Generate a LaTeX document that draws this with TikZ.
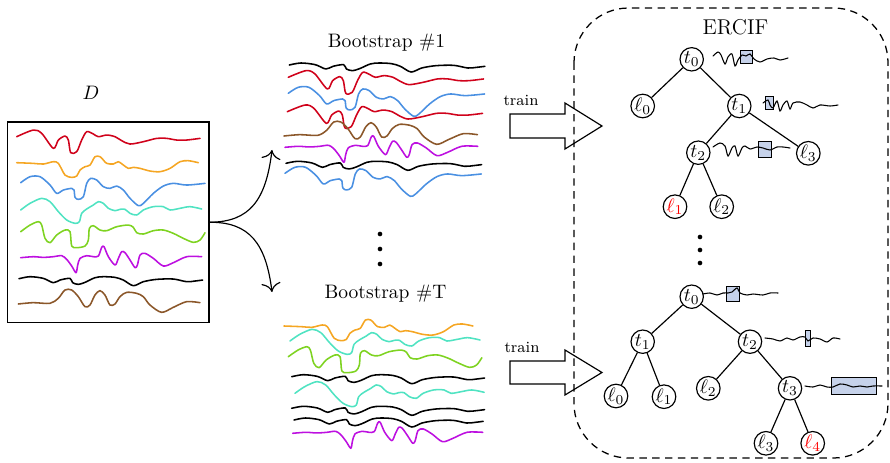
\documentclass[tikz,border=0pt]{standalone}
\usetikzlibrary{arrows.meta}
\definecolor{cRed}{HTML}{D0021B}
\definecolor{cOrange}{HTML}{F5A623}
\definecolor{cBlue}{HTML}{4A90E2}
\definecolor{cTurq}{HTML}{50E3C2}
\definecolor{cGreen}{HTML}{7ED321}
\definecolor{cMag}{HTML}{BD10E0}
\definecolor{cBrown}{HTML}{8B572A}
\definecolor{boxblue}{RGB}{198,210,234}
\tikzset{
  wv/.style={line width=0.8pt, line cap=round, line join=round},
  tnode/.style={circle, draw, line width=0.6pt, minimum size=12pt, inner sep=0pt},
  edge/.style={line width=0.6pt},
  sig/.style={line width=0.55pt, line cap=round},
  sbox/.style={draw, line width=0.5pt, fill=boxblue},
  tarrow/.style={line width=0.6pt, line join=miter},
}
\newcommand\wvRed{\draw[wv,cRed] plot[smooth] coordinates {(0,0) (50,-20) (75,-10) (110,35) (125,10) (145,-2) (155,10) (162,48) (180,45) (195,10) (210,-15) (230,-8) (245,0) (270,-5) (295,0) (315,12) (340,22) (380,15) (420,5) (450,5) (480,10) (510,10) (550,5)};}
\newcommand\wvOrange{\draw[wv,cOrange] plot[smooth] coordinates {(0,0) (50,2) (80,4) (110,-3) (125,2) (145,37) (165,44) (180,40) (190,22) (205,12) (220,7) (235,-18) (250,-18) (260,-8) (270,2) (290,4) (305,-3) (320,7) (335,17) (350,14) (370,17) (400,25) (430,27) (460,17) (490,-3) (515,-6) (545,0)};}
\newcommand\wvBlue{\draw[wv,cBlue] plot[smooth] coordinates {(0,0) (28,-18) (58,-18) (88,7) (108,32) (128,22) (153,17) (160,22) (163,44) (173,50) (188,42) (198,2) (210,-13) (228,-8) (248,12) (268,17) (288,10) (308,22) (328,47) (353,69) (368,62) (398,32) (428,10) (458,2) (498,7) (553,2)};}
\newcommand\wvTurq{\draw[wv,cTurq] plot[smooth] coordinates {(0,0) (28,-20) (63,-35) (88,-25) (113,5) (138,30) (163,40) (176,35) (183,10) (198,-3) (218,-15) (233,-25) (248,-20) (263,-5) (283,2) (298,-2) (313,-2) (328,10) (348,15) (368,0) (398,-10) (428,-10) (448,0) (478,-5) (508,-10) (543,-3)};}
\newcommand\wvGreen{\draw[wv,cGreen] plot[smooth] coordinates {(0,0) (28,-20) (53,-30) (63,-20) (73,20) (88,33) (108,10) (133,-5) (148,0) (153,43) (168,48) (193,43) (203,25) (206,-10) (218,-18) (238,-5) (258,-3) (288,-15) (323,-20) (338,-13) (348,3) (368,7) (398,-3) (428,-5) (458,5) (488,20) (518,32) (538,25) (553,3)};}
\newcommand\wvMag{\draw[wv,cMag] plot[smooth] coordinates {(0,0) (38,-3) (68,-1) (98,-3) (123,-6) (138,5) (153,25) (166,45) (171,22) (178,2) (198,-6) (218,-3) (233,-5) (243,-31) (250,-33) (263,-3) (283,22) (293,2) (303,-18) (313,-15) (328,7) (343,30) (350,22) (358,-8) (373,-13) (398,2) (428,25) (458,15) (498,-3) (543,-3)};}
\newcommand\wvBlack{\draw[wv,black] plot[smooth] coordinates {(0,0) (33,-6) (73,-1) (103,12) (123,4) (153,-1) (161,12) (178,17) (198,11) (228,-3) (253,-6) (288,-4) (313,4) (343,21) (373,9) (413,2) (463,1) (503,9) (528,7) (551,4)};}
\newcommand\wvBrown{\draw[wv,cBrown] plot[smooth] coordinates {(0,0) (45,-4) (95,-2) (120,-17) (140,-42) (160,-42) (180,-22) (200,8) (215,3) (230,-27) (245,-40) (260,-27) (275,3) (290,0) (305,-22) (325,-35) (355,-32) (375,-22) (395,3) (430,25) (465,10) (505,-7) (545,-4)};}
\newcommand\putwv[4]{\begin{scope}[shift={(#1,#2)},xscale=#3*0.33333,yscale=0.33333]#4\end{scope}}
\begin{document}
\begin{tikzpicture}[x=0.5131pt,y=-0.5131pt]
\useasboundingbox (0,0) rectangle (890,463);

% dataset box
\node[draw, line width=0.75pt, minimum width=103.39pt, minimum height=102.88pt, inner sep=0pt] (boxD) at (108.25,222.25) {};
\node (labD) at (91,93) {$D$};
\putwv{16.7}{136.7}{1}{\wvRed}
\putwv{16.7}{162.7}{1}{\wvOrange}
\putwv{20.7}{182.7}{1}{\wvBlue}
\putwv{20.7}{210}{1}{\wvTurq}
\putwv{20.7}{231.7}{1}{\wvGreen}
\putwv{20.7}{257.7}{1}{\wvMag}
\putwv{19}{278.7}{1}{\wvBlack}
\putwv{18.3}{304}{1}{\wvBrown}

% split arrows
\coordinate (up) at (272,150);
\coordinate (dn) at (272,292);
\draw[line width=0.6pt, -{To[scale=1.6]}] (boxD.east) .. controls (250,222) and (266,200) .. (up);
\draw[line width=0.6pt, -{To[scale=1.6]}] (boxD.east) .. controls (250,222) and (266,244) .. (dn);

% bootstrap 1
\node (bs1) at (386.5,43) {Bootstrap \#1};
\putwv{289.3}{65}{1.065}{\wvBlack}
\putwv{288.3}{77.3}{1.065}{\wvRed}
\putwv{288.3}{93.3}{1.065}{\wvBlue}
\putwv{287.3}{111.7}{1.065}{\wvRed}
\putwv{284}{136}{1.065}{\wvBrown}
\putwv{285}{147.3}{1.065}{\wvMag}
\putwv{286}{163.3}{1.065}{\wvBlack}
\putwv{285}{173.3}{1.065}{\wvBlue}

% dots
\fill (380,234) circle (1.2pt);
\fill (380,249) circle (1.2pt);
\fill (380,264) circle (1.2pt);

% bootstrap T
\node (bsT) at (385.5,294) {Bootstrap \#T};
\putwv{284}{326}{1.04}{\wvOrange}
\putwv{290}{341}{1.05}{\wvTurq}
\putwv{288.3}{356.7}{1.05}{\wvGreen}
\putwv{291.7}{376.7}{1.05}{\wvBlack}
\putwv{295}{393.3}{1.045}{\wvTurq}
\putwv{291.7}{408.3}{1.05}{\wvBlack}
\putwv{294}{420}{1.03}{\wvBlack}
\putwv{292.7}{433.3}{1.05}{\wvMag}

% train arrows
\node[font=\footnotesize] (tr1) at (521,100.5) {train};
\draw[tarrow] (510,114) -- (565,114) -- (565,103) -- (602,126) -- (565,149) -- (565,138) -- (510,138) -- cycle;
\node[font=\footnotesize] (tr2) at (522,347.5) {train};
\draw[tarrow] (510,361) -- (565,361) -- (565,350) -- (602,372.5) -- (565,395) -- (565,384) -- (510,384) -- cycle;

% ERCIF frame
\draw[dashed, dash pattern=on 3.8pt off 2.8pt, line width=0.65pt, rounded corners=28pt] (574,8) rectangle (888,458);
\node[font=\fontsize{11}{13}\selectfont] (ercif) at (735.5,26.7) {ERCIF};

% tree 1
\node[tnode] (a0) at (691.7,59.3) {$t_0$};
\node[tnode] (al0) at (642.7,106) {$\ell_0$};
\node[tnode] (a1) at (739.3,106) {$t_1$};
\node[tnode] (a2) at (698.3,152.7) {$t_2$};
\node[tnode] (al3) at (808.3,153.3) {$\ell_3$};
\node[tnode] (al1) at (675,206.7) {\color{red}$\ell_1$};
\node[tnode] (al2) at (721.7,206.7) {$\ell_2$};
\draw[edge] (a0) -- (al0);
\draw[edge] (a0) -- (a1);
\draw[edge] (a1) -- (a2);
\draw[edge] (a1) -- (al3);
\draw[edge] (a2) -- (al1);
\draw[edge] (a2) -- (al2);
\draw[sbox] (740,50) rectangle (752.7,63.3);
\draw[sig] plot[smooth] coordinates {(713,56) (718,52) (721,55) (725,64) (728,57) (732,54) (735,66) (738,60) (742,55) (746,56) (750,54) (754,59) (760,62) (767,59) (774,58) (780,60) (788,58)};
\draw[sbox] (765,96.7) rectangle (773.3,109);
\draw[sig] plot[smooth] coordinates {(763,103) (768,100) (770,105) (773,108) (777,101) (780,111) (783,105) (787,101) (790,109) (793,103) (800,102) (807,105) (813,108) (820,105) (830,106) (838,105)};
\draw[sbox] (758.3,141.7) rectangle (771.7,157.3);
\draw[sig] plot[smooth] coordinates {(713,147) (720,143) (725,146) (728,156) (732,148) (735,146) (738,156) (742,148) (745,146) (750,149) (757,147) (763,148) (770,150) (777,147) (783,147) (790,148)};

\fill (700,237) circle (1.2pt);
\fill (700,250) circle (1.2pt);
\fill (700,263) circle (1.2pt);

% tree 2
\node[tnode] (b0) at (691.7,296.7) {$t_0$};
\node[tnode] (b1) at (642.7,341.7) {$t_1$};
\node[tnode] (b2) at (750,341.7) {$t_2$};
\node[tnode] (bl0) at (616,396) {$\ell_0$};
\node[tnode] (bl1) at (664,396.7) {$\ell_1$};
\node[tnode] (bl2) at (708.3,388.3) {$\ell_2$};
\node[tnode] (b3) at (790,388.3) {$t_3$};
\node[tnode] (bl3) at (766,443.3) {$\ell_3$};
\node[tnode] (bl4) at (812.7,443.3) {\color{red}$\ell_4$};
\draw[edge] (b0) -- (b1);
\draw[edge] (b0) -- (b2);
\draw[edge] (b1) -- (bl0);
\draw[edge] (b1) -- (bl1);
\draw[edge] (b2) -- (bl2);
\draw[edge] (b2) -- (b3);
\draw[edge] (b3) -- (bl3);
\draw[edge] (b3) -- (bl4);
\draw[sbox] (726,286) rectangle (739.3,301.7);
\draw[sig] plot[smooth] coordinates {(703,294) (710,293) (717,295) (723,293) (728,293) (732,292) (737,288) (740,293) (747,295) (753,294) (763,295) (770,293) (778,293)};
\draw[sbox] (805,330.7) rectangle (810.7,346.7);
\draw[sig] plot[smooth] coordinates {(765,338) (773,339) (780,341) (787,338) (793,340) (800,337) (805,337) (808,341) (813,338) (820,339) (827,342) (833,338) (840,339)};
\draw[sbox] (831.7,377.7) rectangle (876.7,394);
\draw[sig] plot[smooth] coordinates {(805,386) (813,387) (820,385) (827,387) (833,387) (840,384) (847,385) (853,387) (860,386) (867,387) (873,386) (882,386)};
\end{tikzpicture}
\end{document}
